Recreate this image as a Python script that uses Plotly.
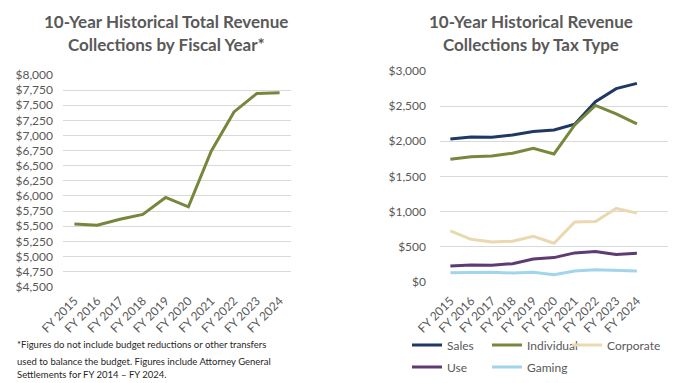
import plotly.graph_objects as go

years = ["FY 2015", "FY 2016", "FY 2017", "FY 2018", "FY 2019",
         "FY 2020", "FY 2021", "FY 2022", "FY 2023", "FY 2024"]
total = [5535, 5515, 5615, 5695, 5975, 5820, 6740, 7390, 7695, 7705]

sales = [2033, 2060, 2057, 2090, 2137, 2161, 2243, 2563, 2749, 2824]
individual = [1743, 1780, 1790, 1829, 1900, 1819, 2233, 2510, 2390, 2247]
corporate = [723, 604, 566, 576, 647, 547, 851, 857, 1043, 976]
use = [224, 237, 233, 257, 324, 343, 410, 429, 386, 404]
gaming = [129, 133, 133, 124, 133, 100, 152, 171, 162, 152]

left_ticks = list(range(4500, 8001, 250))
right_ticks = list(range(0, 3001, 500))

W, H = 685, 383
FONT = "Lato"
GRAY = "#595959"

def px(x):
    return x / W

def py(y):
    return 1 - y / H

def money(v):
    return "${:,}".format(v)

fig = go.Figure()

fig.add_trace(go.Scatter(x=years, y=total, mode="lines", xaxis="x", yaxis="y",
                         line=dict(color="#76863b", width=3), showlegend=False))

# name, values, colour, legend id, legend anchor (px, py)
series = [("Sales", sales, "#1f3864", "legend", (407, 345)),
          ("Individual", individual, "#77873c", "legend2", (487, 345)),
          ("Corporate", corporate, "#ead9b0", "legend3", (567, 345)),
          ("Use", use, "#5e3b73", "legend4", (407, 367)),
          ("Gaming", gaming, "#a0d5ec", "legend5", (487, 367))]

legends = {}
for name, vals, col, lg, (lx, ly) in series:
    fig.add_trace(go.Scatter(x=years, y=vals, name=name, mode="lines",
                             xaxis="x2", yaxis="y2", legend=lg,
                             line=dict(color=col, width=3)))
    legends[lg] = dict(x=px(lx), y=py(ly), orientation="h", xanchor="left",
                       yanchor="middle", bgcolor="rgba(0,0,0,0)", itemwidth=30,
                       font=dict(family=FONT, size=12, color=GRAY))

axis_common = dict(showline=False, zeroline=False, ticks="", automargin=False,
                   tickfont=dict(family=FONT, size=12, color=GRAY))

fig.update_layout(
    width=W, height=H,
    margin=dict(l=0, r=0, t=0, b=0, autoexpand=False),
    paper_bgcolor="white", plot_bgcolor="white",
    font=dict(family=FONT, color=GRAY),
    xaxis=dict(domain=[px(63), px(291)], anchor="y", type="category",
               categoryorder="array", categoryarray=years,
               range=[-0.5, 9.5], showgrid=False, tickangle=-45,
               ticklabelstandoff=4, **axis_common),
    yaxis=dict(domain=[py(286.7), py(75)], anchor="x", range=[4500, 8000],
               tickvals=left_ticks, ticktext=[money(v) for v in left_ticks],
               showgrid=True, gridcolor="#d9d9d9", gridwidth=1,
               ticklabelstandoff=9, **axis_common),
    xaxis2=dict(domain=[px(440), px(668)], anchor="y2", type="category",
                categoryorder="array", categoryarray=years,
                range=[-0.5, 10.5], showgrid=False, tickangle=-45,
                ticklabelstandoff=9, **axis_common),
    yaxis2=dict(domain=[py(281.7), py(71)], anchor="x2", range=[0, 3000],
                tickvals=right_ticks, ticktext=[money(v) for v in right_ticks],
                showgrid=True, gridcolor="#d9d9d9", gridwidth=1,
                ticklabelstandoff=13, **axis_common),
    showlegend=True,
    **legends,
)

annotations = [
    dict(text="<b>10-Year Historical Total Revenue</b>", x=px(166), y=py(22)),
    dict(text="<b>Collections by Fiscal Year*</b>", x=px(166), y=py(44)),
    dict(text="<b>10-Year Historical Revenue</b>", x=px(531), y=py(22)),
    dict(text="<b>Collections by Tax Type</b>", x=px(531), y=py(44)),
]
for a in annotations:
    fig.add_annotation(xref="paper", yref="paper", showarrow=False,
                       xanchor="center", yanchor="middle",
                       font=dict(family=FONT, size=17, color=GRAY), **a)

notes = ["*Figures do not include budget reductions or other transfers",
         "used to balance the budget. Figures include Attorney General",
         "Settlements for FY 2014 \u2013 FY 2024."]
for txt, yy in zip(notes, [344, 361, 374]):
    fig.add_annotation(xref="paper", yref="paper", showarrow=False,
                       xanchor="left", yanchor="middle", x=px(15), y=py(yy),
                       text=txt, font=dict(family=FONT, size=9.5, color="#262626"))

fig.write_html("out.html",
               config={"displayModeBar": False},
               post_script="document.body.style.margin='0';"
                           "document.documentElement.style.overflow='hidden';")
